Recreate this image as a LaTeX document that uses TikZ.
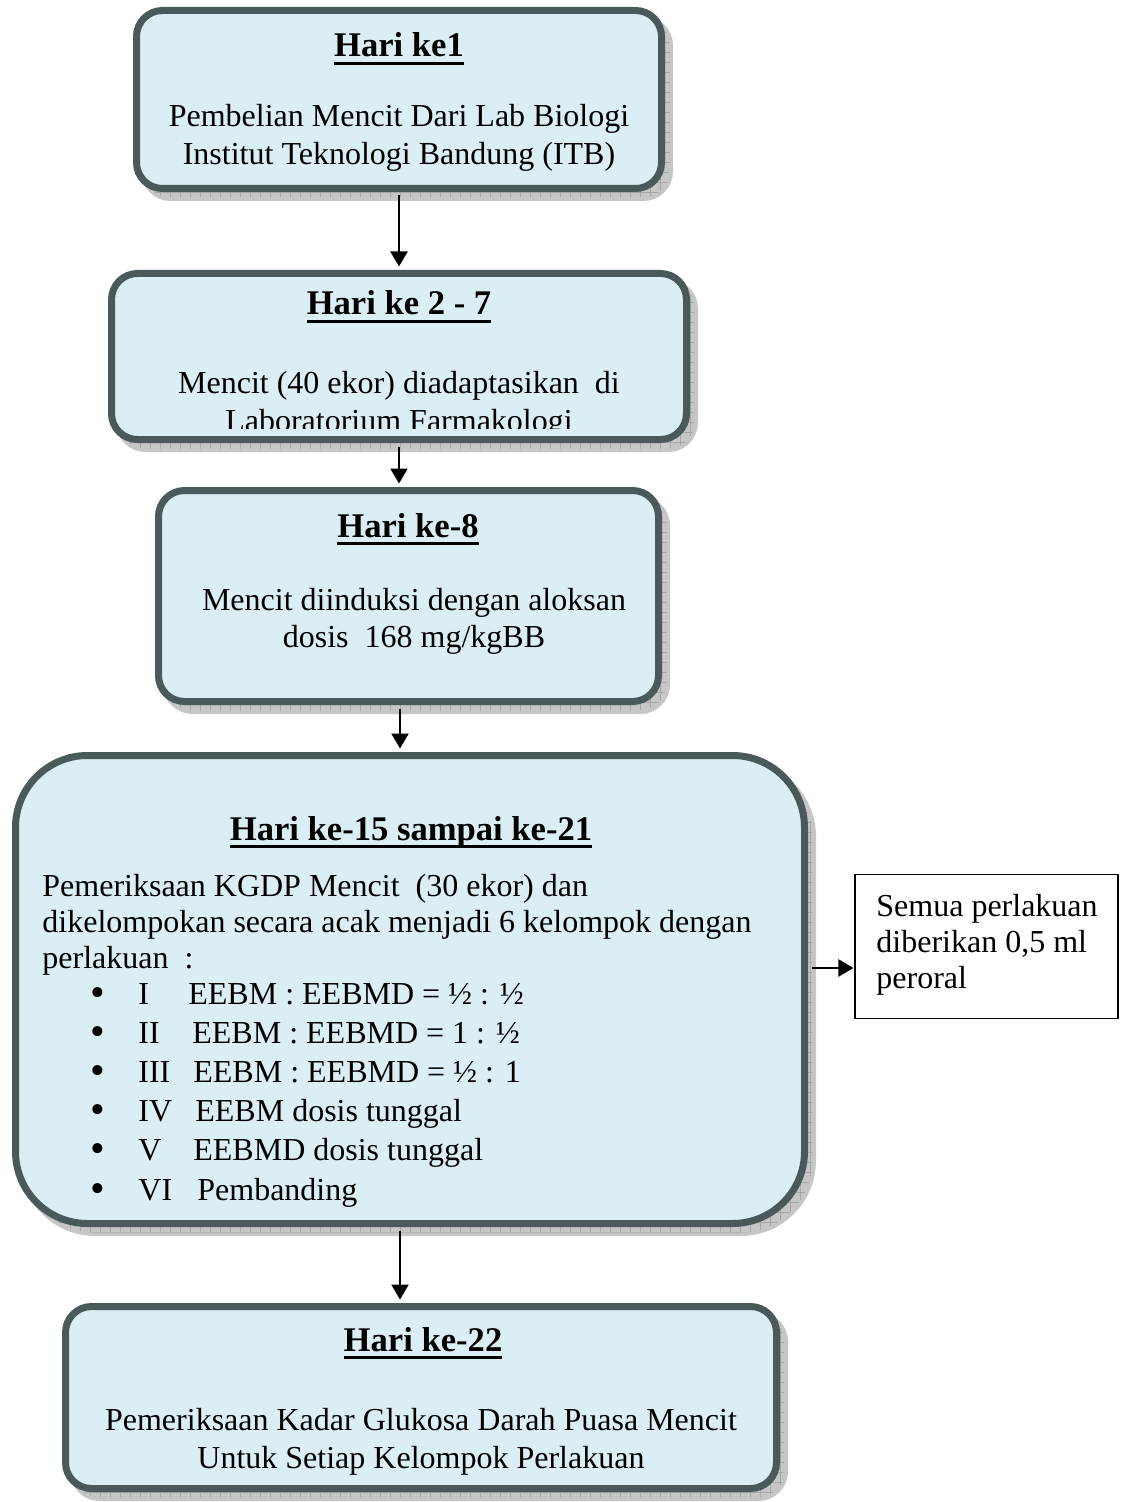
\documentclass[tikz,border=0pt]{standalone}
\usepackage{fontspec}
\setmainfont{Liberation Serif}
\usetikzlibrary{arrows.meta,shadows,patterns.meta}

\definecolor{boxfill}{HTML}{DAEEF3}
\definecolor{boxline}{HTML}{4A5A5A}
\definecolor{shade}{HTML}{C6C6C6}

% bold underlined day heading
\newcommand\hari[1]{\setbox0\hbox{\bfseries #1}\rlap{\rule[-4pt]{\wd0}{1.6pt}}\box0}
% one bullet line: numeral, numeral box width, text
\newcommand\bul[3]{\hspace*{24pt}\makebox[24pt][l]{\smash{\raisebox{-1pt}{\fontsize{21}{18}\selectfont\textbullet}}}\makebox[#2][l]{#1}#3}

\tikzset{
  stage/.style={rectangle, rounded corners=13pt, draw=boxline, line width=3.5pt, fill=boxfill,
    drop shadow={shadow xshift=4pt, shadow yshift=-4.5pt, fill=shade, draw=shade, line width=3.5pt, opacity=1,
      postaction={pattern={Hatch[angle=0,distance=5pt,line width=.4pt]}, pattern color=gray!70}}},
  note/.style={rectangle, draw=black, line width=.75pt, fill=white},
  title/.style={anchor=base, inner sep=0pt, font=\fontsize{17.3}{19}\selectfont},
  body/.style={anchor=base, inner sep=0pt, align=center, font=\fontsize{16}{19}\selectfont},
  flow/.style={-{Triangle[length=7.5pt,width=8.5pt]}, line width=1.2pt, shorten <=1.75pt, shorten >=1.75pt}
}

\begin{document}
\begin{tikzpicture}[x=0.5pt,y=-0.5pt]
\useasboundingbox (0,0) rectangle (1125,1502);

\node[stage, minimum width=262.5pt, minimum height=89pt] (d1) at (399,99.5) {};
\node[stage, minimum width=287.5pt, minimum height=83pt] (d2) at (399,356.5) {};
\node[stage, minimum width=250pt, minimum height=105.5pt] (d8) at (408.5,596) {};
\node[stage, rounded corners=36pt, minimum width=394.5pt, minimum height=234pt] (d15) at (410,989.5) {};
\node[stage, minimum width=355.5pt, minimum height=91pt] (d22) at (421,1397.5) {};
\node[note, minimum width=131.5pt, minimum height=72pt] (all) at (986.5,946.5) {};

% headings
\node[title] (t1) at (399,57) {\hari{Hari ke1}};
\node[title] (t2) at (399,315) {\hari{Hari ke 2 - 7}};
\node[title] (t8) at (408,537) {\hari{Hari ke-8}};
\node[title] (t15) at (411,840) {\hari{Hari ke-15 sampai ke-21}};
\node[title] (t22) at (423,1351) {\hari{Hari ke-22}};

% texts (placed at the baseline of their last line)
\node[body] (b1) at (399,165) {Pembelian Mencit Dari Lab Biologi\\Institut Teknologi Bandung (ITB)};
\coordinate (cut) at (0,429);
\begin{scope}
\clip (d2.north west) rectangle (d2.east |- cut);
\node[body] (b2) at (399,431) {Mencit (40 ekor) diadaptasikan\ \ di\\Laboratorium Farmakologi};
\end{scope}
\node[body, font=\fontsize{16}{18.5}\selectfont] (b8) at (414,647) {Mencit diinduksi dengan aloksan\\dosis\ \ 168 mg/kgBB};
\node[body, anchor=base west, align=left, font=\fontsize{16}{18}\selectfont] (b15) at (42,1200)
  {Pemeriksaan KGDP Mencit\ \ (30 ekor) dan\\
   dikelompokan secara acak menjadi 6 kelompok dengan\\
   perlakuan\ \ :\\
   \bul{I}{25pt}{EEBM : EEBMD = ½ : ½}\\[1.6pt]
   \bul{II}{27pt}{EEBM : EEBMD = 1 : ½}\\[1.6pt]
   \bul{III}{27.5pt}{EEBM : EEBMD = ½ : 1}\\[1.6pt]
   \bul{IV}{28.5pt}{EEBM dosis tunggal}\\[1.6pt]
   \bul{V}{27.5pt}{EEBMD dosis tunggal}\\[1.6pt]
   \bul{VI}{29.5pt}{Pembanding}};
\node[body] (b22) at (421,1468) {Pemeriksaan Kadar Glukosa Darah Puasa Mencit\\Untuk Setiap Kelompok Perlakuan};
\node[body, anchor=base west, align=left, font=\fontsize{16}{18}\selectfont] (ball) at (876,988)
  {Semua perlakuan\\diberikan 0,5 ml\\peroral};

% connectors
\coordinate (spine) at (400,0);
\coordinate (tap) at (0,968);
\draw[flow] (d1.south) -- (d2.north);
\draw[flow] (d2.south) -- (d8.north -| d2.south);
\draw[flow] (d8.south -| spine) -- (d15.north -| spine);
\draw[flow] (d15.south -| spine) -- (d22.north -| spine);
\draw[flow, shorten >=.4pt] (d15.east |- tap) -- (all.west |- tap);
\end{tikzpicture}
\end{document}
